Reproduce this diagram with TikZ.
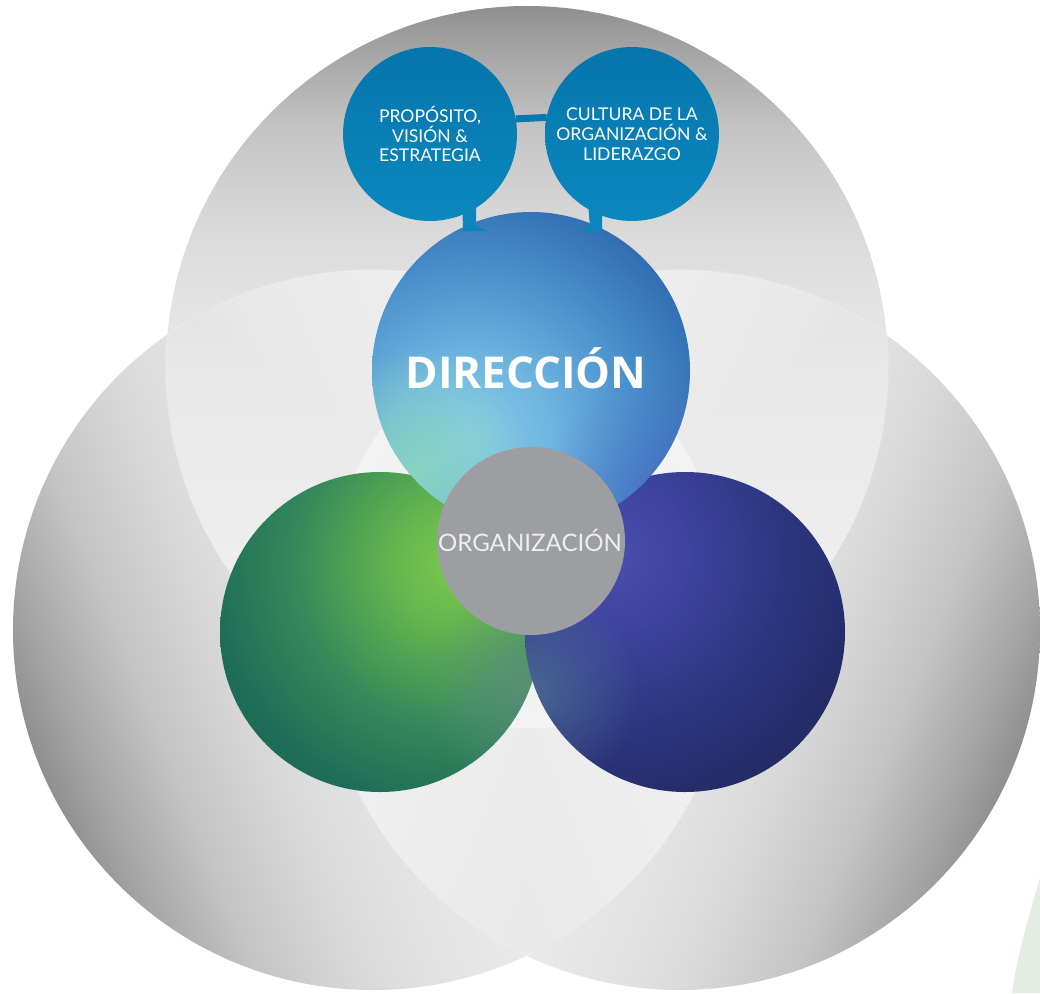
\documentclass[tikz,border=0pt]{standalone}
\usepackage{fontspec}
\setmainfont{Lato}
\newfontfamily\dirfont{Open Sans}
\usetikzlibrary{fadings}

\definecolor{gA}{HTML}{F3F3F3}
\definecolor{gB}{HTML}{E8E8E8}
\definecolor{gC}{HTML}{E2E2E2}
\definecolor{gD}{HTML}{DBDBDB}
\definecolor{gE}{HTML}{D4D4D4}
\definecolor{gF}{HTML}{C4C4C4}
\definecolor{gG}{HTML}{A4A4A4}
\definecolor{gH}{HTML}{8F8F8F}

\definecolor{dA}{HTML}{88CCEA}
\definecolor{dB}{HTML}{6FB6E0}
\definecolor{dC}{HTML}{4A90CC}
\definecolor{dD}{HTML}{2E69AF}

\definecolor{vA}{HTML}{7AC94F}
\definecolor{vB}{HTML}{66B64E}
\definecolor{vC}{HTML}{35895A}
\definecolor{vD}{HTML}{1C6C58}

\definecolor{nA}{HTML}{4C4EAC}
\definecolor{nB}{HTML}{3E44A0}
\definecolor{nC}{HTML}{2C3680}
\definecolor{nD}{HTML}{232C66}

\definecolor{bubtop}{HTML}{0675AB}
\definecolor{bubbot}{HTML}{0B88BF}
\definecolor{bubbar}{HTML}{0879AF}
\definecolor{bubtail}{HTML}{0B86BD}
\definecolor{orggrey}{HTML}{9D9EA2}
\definecolor{orgtext}{HTML}{EEEEEE}
\definecolor{tealtint}{HTML}{8AD6BE}
\definecolor{violtint}{HTML}{4B5FC0}
\definecolor{juncg}{HTML}{5E8E80}
\definecolor{juncn}{HTML}{4E6E94}
\definecolor{decogreen}{HTML}{E4EDE4}

\pgfdeclareverticalshading{bigv}{100bp}{color(0bp)=(gA); color(25bp)=(gA); color(50bp)=(gB); color(55bp)=(gC); color(59bp)=(gD); color(61.5bp)=(gE); color(66.5bp)=(gF); color(72bp)=(gG); color(75bp)=(gH); color(100bp)=(gH)}
\pgfdeclareradialshading{dirsh}{\pgfpointorigin}{color(0bp)=(dA); color(6.67bp)=(dB); color(14.17bp)=(dC); color(21.67bp)=(dD); color(50bp)=(dD)}
\pgfdeclareradialshading{greensh}{\pgfpointorigin}{color(0bp)=(vA); color(5bp)=(vB); color(13.33bp)=(vC); color(20.83bp)=(vD); color(50bp)=(vD)}
\pgfdeclareradialshading{navysh}{\pgfpointorigin}{color(0bp)=(nA); color(5.83bp)=(nB); color(14.17bp)=(nC); color(21.67bp)=(nD); color(50bp)=(nD)}
\tikzfading[name=softfade, inner color=transparent!0, outer color=transparent!100]

\begin{document}
\begin{tikzpicture}[x=0.02cm, y=0.02cm,
  seam/.style={white, opacity=0.13, line width=0.04cm},
  disc/.style={circle, inner sep=0pt, outer sep=0pt},
  bubble/.style={disc, minimum size=3.48cm, top color=bubtop, bottom color=bubbot,
    text=white, align=center, font=\fontsize{10}{11.34}\selectfont},
  bar/.style={bubbar, line width=0.14cm},
  tail/.style={fill=bubtail},
]
\useasboundingbox (0,0) rectangle (1040,-993);
\coordinate (TC) at (527,-367);
\coordinate (LC) at (373,-630);
\coordinate (RC) at (680,-630);

% faint background shape
\fill[decogreen] (1040,-878) .. controls (1026,-925) and (1016,-962) .. (1012,-993) -- (1040,-993) -- cycle;

% three large grey circles
\begin{scope}[transparency group]
\begin{scope}[blend mode=lighten]
\shade[shading=bigv, shading angle=112] (LC) circle (360);
\shade[shading=bigv, shading angle=248] (RC) circle (360);
\shade[shading=bigv] (TC) circle (361);
\end{scope}
\end{scope}

% seams
\begin{scope}\clip (LC) circle (360) (RC) circle (360); \draw[seam] (TC) circle (361); \end{scope}
\begin{scope}\clip (TC) circle (361); \draw[seam] (LC) circle (360) (RC) circle (360); \end{scope}
\begin{scope}\clip (LC) circle (360); \draw[seam] (RC) circle (360); \end{scope}
\begin{scope}\clip (RC) circle (360); \draw[seam] (LC) circle (360); \end{scope}

% coloured circles
\node[disc, minimum size=6.4cm] (green) at (380,-632) {};
\node[disc, minimum size=6.4cm] (navy) at (685,-632) {};
\node[disc, minimum size=6.36cm] (dir) at (531,-371) {};

\begin{scope}
\clip (green.center) circle (160);
\shade[shading=greensh] (455,-565) circle (300);
\fill[juncg, fill opacity=0.8, path fading=softfade] (530,-690) circle (110);
\end{scope}
\begin{scope}
\clip (navy.center) circle (160);
\shade[shading=navysh] (612,-555) circle (300);
\fill[juncn, fill opacity=0.85, path fading=softfade] (530,-690) circle (110);
\end{scope}
\begin{scope}
\clip (dir.center) circle (159);
\shade[shading=dirsh] (470,-440) circle (300);
\fill[tealtint, fill opacity=0.9, path fading=softfade] (415,-470) circle (120);
\fill[violtint, fill opacity=0.6, path fading=softfade] (670,-500) circle (130);
\end{scope}

\node[anchor=base, text=white, font=\dirfont\bfseries\fontsize{25}{30}\selectfont] (dirlabel) at (526,-388) {DIRECCIÓN};

% organisation
\node[disc, minimum size=3.76cm, fill=orggrey] (org) at (531,-541) {};
\node[anchor=base, text=orgtext, font=\fontsize{13.7}{16}\selectfont] (orglabel) at (530,-551) {ORGANIZACIÓN};

% top bubbles
\node[bubble] (p1) at (430,-134) {PROPÓSITO,\\VISIÓN \&\\ESTRATEGIA};
\node[bubble] (p2) at (632,-134) {CULTURA DE LA\\ORGANIZACIÓN \&\\LIDERAZGO};
\draw[bar] (p1.10.3) -- (p2.169.7);
\fill[tail] (p1.-68) -- (463,-231) -- (488,-231) -- (476,-226) -- (p1.-58) -- cycle;
\fill[tail] (p2.-110) -- (602,-231) -- (580,-231) -- (590,-226) -- (p2.-120) -- cycle;
\end{tikzpicture}
\end{document}
